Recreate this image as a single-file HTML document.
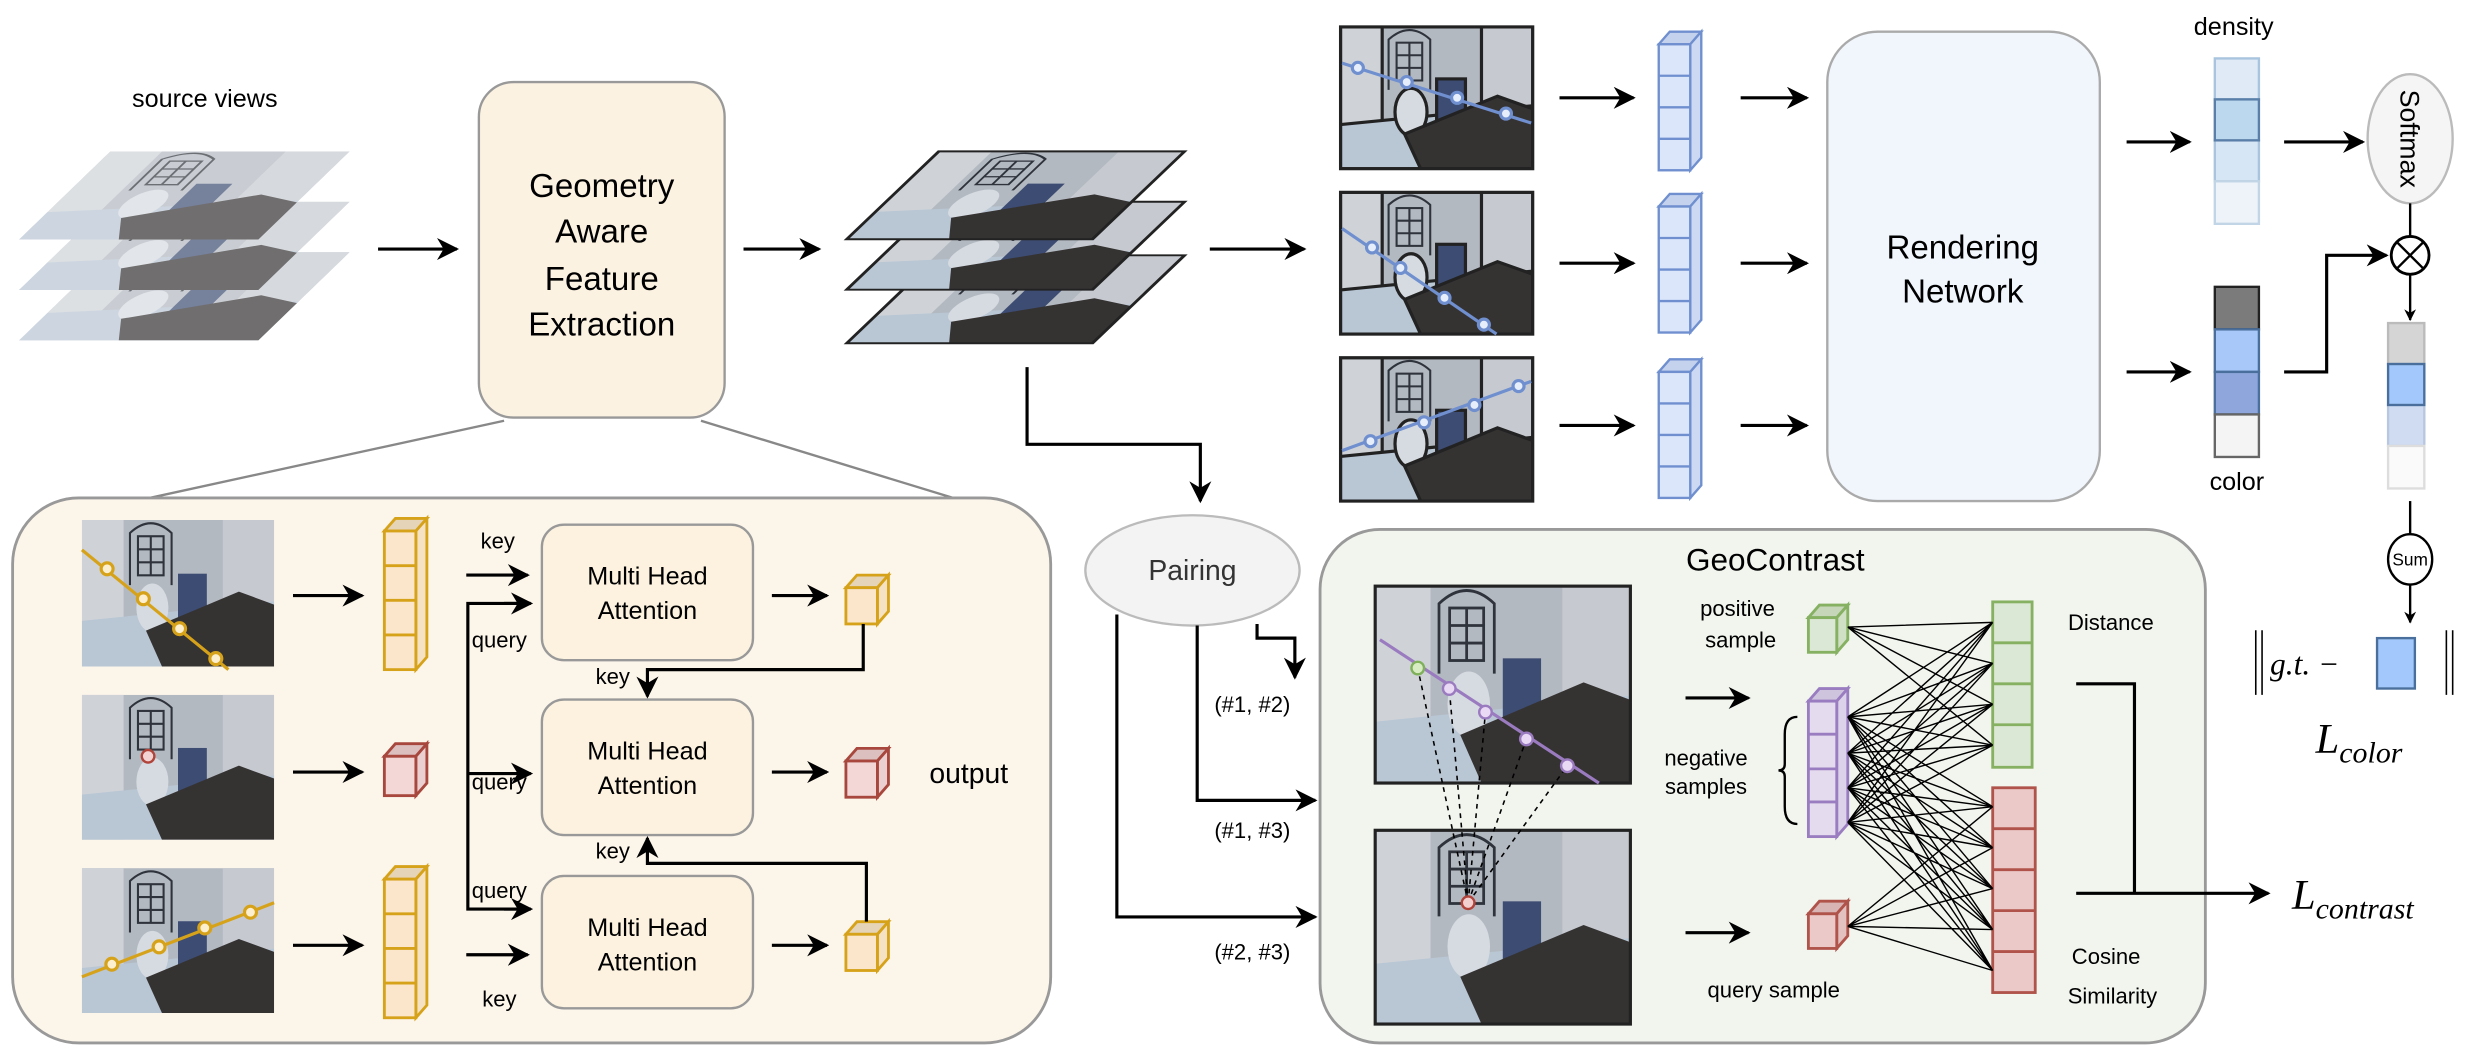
<!DOCTYPE html>
<html><head><meta charset="utf-8"><style>
html,body{margin:0;padding:0;background:#fff;}
svg{display:block;font-family:"Liberation Sans",sans-serif;}
</style></head><body>
<svg width="2470" height="1062" viewBox="0 0 1568 674" xmlns="http://www.w3.org/2000/svg">
<defs>
<marker id="ar" viewBox="0 0 10 10" refX="9" refY="5" markerWidth="7" markerHeight="7" orient="auto-start-reverse"><path d="M0,0 L10,5 L0,10 L3,5 z" fill="#000"/></marker>
<marker id="as" viewBox="0 0 10 10" refX="9" refY="5" markerWidth="5" markerHeight="5" orient="auto"><path d="M0,0 L10,5 L0,10 L3,5 z" fill="#000"/></marker>
<symbol id="scene" viewBox="0 0 120 90" preserveAspectRatio="none">
<rect width="120" height="90" fill="#b3b9c1"/>
<rect x="0" y="0" width="26" height="90" fill="#cfd3d8"/>
<rect x="88" y="0" width="32" height="60" fill="#c6cad0"/>
<polygon points="0,62 120,50 120,90 0,90" fill="#b9c6d4"/>
<g fill="none" stroke="#2f343c" stroke-width="1.3">
<path d="M30 40 V8 Q43 -4 56 8 V40"/>
<rect x="35" y="10" width="16" height="24"/>
<path d="M35 18h16M35 26h16M43 10v24"/>
</g>
<ellipse cx="44" cy="54" rx="10" ry="15" fill="#d6dbe1"/>
<rect x="60" y="33" width="18" height="34" fill="#3d4c72"/>
<polygon points="40,68 98,44 120,52 120,90 50,90" fill="#353232"/>
</symbol>
</defs>

<!-- source views -->
<text x="130" y="68" font-size="16" text-anchor="middle">source views</text>
<g opacity="0.7">
<use href="#scene" width="120" height="90" transform="matrix(1.267 0 -0.644 0.622 70 160)"/>
<use href="#scene" width="120" height="90" transform="matrix(1.267 0 -0.644 0.622 70 128)"/>
<use href="#scene" width="120" height="90" transform="matrix(1.267 0 -0.644 0.622 70 96)"/>
</g>
<line x1="240" y1="158" x2="290" y2="158" stroke="#000" stroke-width="2" marker-end="url(#ar)"/>

<rect x="304" y="52" width="156" height="213" rx="22" fill="#fcf2e2" stroke="#999" stroke-width="1.5"/>
<g font-size="21" text-anchor="middle"><text x="382" y="125">Geometry</text><text x="382" y="154">Aware</text><text x="382" y="184">Feature</text><text x="382" y="213">Extraction</text></g>
<line x1="472" y1="158" x2="520" y2="158" stroke="#000" stroke-width="2" marker-end="url(#ar)"/>

<g>
<g transform="matrix(1.3 0 -0.65 0.62 596 162)"><use href="#scene" width="120" height="90"/><rect width="120" height="90" fill="none" stroke="#222" stroke-width="2"/></g>
<g transform="matrix(1.3 0 -0.65 0.62 596 128)"><use href="#scene" width="120" height="90"/><rect width="120" height="90" fill="none" stroke="#222" stroke-width="2"/></g>
<g transform="matrix(1.3 0 -0.65 0.62 596 96)"><use href="#scene" width="120" height="90"/><rect width="120" height="90" fill="none" stroke="#222" stroke-width="2"/></g>
</g>
<line x1="768" y1="158" x2="828" y2="158" stroke="#000" stroke-width="2" marker-end="url(#ar)"/>

<!-- target images -->
<g stroke="#222" stroke-width="2">
<use href="#scene" x="851" y="17" width="122" height="90"/><rect x="851" y="17" width="122" height="90" fill="none"/>
<use href="#scene" x="851" y="122" width="122" height="90"/><rect x="851" y="122" width="122" height="90" fill="none"/>
<use href="#scene" x="851" y="227" width="122" height="91"/><rect x="851" y="227" width="122" height="91" fill="none"/>
</g>
<g stroke="#6f8fcf" stroke-width="2" fill="#e6eefc">
<line x1="852" y1="40" x2="972" y2="78"/><circle cx="862" cy="43" r="3.5"/><circle cx="893" cy="52" r="3.5"/><circle cx="925" cy="62" r="3.5"/><circle cx="956" cy="72" r="3.5"/>
<line x1="852" y1="145" x2="950" y2="212"/><circle cx="871" cy="157" r="3.5"/><circle cx="889" cy="170" r="3.5"/><circle cx="917" cy="189" r="3.5"/><circle cx="942" cy="206" r="3.5"/>
<line x1="852" y1="286" x2="972" y2="242"/><circle cx="870" cy="280" r="3.5"/><circle cx="904" cy="268" r="3.5"/><circle cx="936" cy="257" r="3.5"/><circle cx="964" cy="245" r="3.5"/>
</g>
<g stroke="#000" stroke-width="2" marker-end="url(#ar)">
<line x1="990" y1="62" x2="1037" y2="62"/><line x1="990" y1="167" x2="1037" y2="167"/><line x1="990" y1="270" x2="1037" y2="270"/>
<line x1="1105" y1="62" x2="1147" y2="62"/><line x1="1105" y1="167" x2="1147" y2="167"/><line x1="1105" y1="270" x2="1147" y2="270"/>
</g>
<!-- blue columns -->
<g stroke="#6f8fcf" stroke-width="1.5" fill="#dce6fb">
<g><polygon points="1053,28 1060,20 1080,20 1073,28" fill="#c5d2ee"/><polygon points="1073,28 1080,20 1080,100 1073,108" fill="#cdd9f3"/><rect x="1053" y="28" width="20" height="80"/><path d="M1053 48h20M1053 68h20M1053 88h20" fill="none"/></g>
<g><polygon points="1053,131 1060,123 1080,123 1073,131" fill="#c5d2ee"/><polygon points="1073,131 1080,123 1080,203 1073,211" fill="#cdd9f3"/><rect x="1053" y="131" width="20" height="80"/><path d="M1053 151h20M1053 171h20M1053 191h20" fill="none"/></g>
<g><polygon points="1053,236 1060,228 1080,228 1073,236" fill="#c5d2ee"/><polygon points="1073,236 1080,228 1080,308 1073,316" fill="#cdd9f3"/><rect x="1053" y="236" width="20" height="80"/><path d="M1053 256h20M1053 276h20M1053 296h20" fill="none"/></g>
</g>
<rect x="1160" y="20" width="173" height="298" rx="32" fill="#f1f6fd" stroke="#aaa" stroke-width="1.5"/>
<g font-size="21" text-anchor="middle"><text x="1246" y="164">Rendering</text><text x="1246" y="192">Network</text></g>

<g stroke="#000" stroke-width="2" marker-end="url(#ar)">
<line x1="1350" y1="90" x2="1390" y2="90"/><line x1="1350" y1="236" x2="1390" y2="236"/>
<line x1="1450" y1="90" x2="1500" y2="90"/>
</g>
<text x="1418" y="22" font-size="16" text-anchor="middle">density</text>
<g stroke-width="1.5">
<rect x="1406" y="37" width="28" height="26" fill="#dfeaf6" stroke="#a9c4de"/>
<rect x="1406" y="89" width="28" height="26" fill="#d7e6f4" stroke="#a9c4de"/>
<rect x="1406" y="115" width="28" height="27" fill="#eef3f9" stroke="#c2d5e6"/>
<rect x="1406" y="63" width="28" height="26" fill="#bcd8ee" stroke="#5a7fa8"/>
<rect x="1406" y="182" width="28" height="27" fill="#7b7b7b" stroke="#222"/>
<rect x="1406" y="209" width="28" height="27" fill="#a8c8fa" stroke="#4a6f9c"/>
<rect x="1406" y="236" width="28" height="27" fill="#8ea6dc" stroke="#4a6f9c"/>
<rect x="1406" y="263" width="28" height="27" fill="#f4f4f4" stroke="#666"/>
</g>
<text x="1420" y="311" font-size="16" text-anchor="middle">color</text>
<ellipse cx="1530" cy="88" rx="27" ry="41" fill="#f5f5f5" stroke="#bbb" stroke-width="1.5"/>
<text x="0" y="0" font-size="17" text-anchor="middle" transform="translate(1524 88) rotate(90)">Softmax</text>
<line x1="1530" y1="129" x2="1530" y2="150" stroke="#000" stroke-width="1.5"/>
<circle cx="1530" cy="162" r="12" fill="#fff" stroke="#000" stroke-width="1.8"/>
<path d="M1522 154 L1538 170 M1538 154 L1522 170" stroke="#000" stroke-width="1.5"/>
<path d="M1450 236 H1477 V162 H1515" fill="none" stroke="#000" stroke-width="2" marker-end="url(#ar)"/>
<line x1="1530" y1="174" x2="1530" y2="203" stroke="#000" stroke-width="1.5" marker-end="url(#as)"/>
<g stroke-width="1.5">
<rect x="1516" y="205" width="23" height="26" fill="#d5d5d5" stroke="#bbb"/>
<rect x="1516" y="257" width="23" height="26" fill="#d0dcf2" stroke="#b8c6e0"/>
<rect x="1516" y="283" width="23" height="27" fill="#fafafa" stroke="#ddd"/>
<rect x="1516" y="231" width="23" height="26" fill="#a3c8fb" stroke="#4a6f9c"/>
</g>
<line x1="1530" y1="318" x2="1530" y2="340" stroke="#000" stroke-width="1.5"/>
<ellipse cx="1530" cy="355" rx="14" ry="16" fill="#fff" stroke="#000" stroke-width="1.5"/>
<text x="1530" y="359" font-size="11" text-anchor="middle">Sum</text>
<line x1="1530" y1="371" x2="1530" y2="395" stroke="#000" stroke-width="1.5" marker-end="url(#as)"/>
<path d="M1432 400 V441 M1436 400 V441 M1553 400 V441 M1557 400 V441" stroke="#000" stroke-width="1"/>
<text x="1441" y="428" font-size="20" font-style="italic" font-family="Liberation Serif,serif">g.t. −</text>
<rect x="1509" y="405" width="24" height="32" fill="#a3c8fb" stroke="#4a6f9c" stroke-width="1.5"/>
<text x="1470" y="478" font-size="27" font-style="italic" font-family="Liberation Serif,serif">L<tspan font-size="19" dy="6">color</tspan></text>

<!-- lower-left panel -->
<path d="M320 267 L95 316 M445 267 L605 316" stroke="#888" stroke-width="1.5"/>
<rect x="8" y="316" width="659" height="346" rx="42" fill="#fcf5ea" stroke="#999" stroke-width="1.8"/>
<use href="#scene" x="52" y="330" width="122" height="93"/>
<use href="#scene" x="52" y="441" width="122" height="92"/>
<use href="#scene" x="52" y="551" width="122" height="92"/>
<g stroke="#d6a21a" stroke-width="2" fill="#fcefcf">
<line x1="52" y1="349" x2="145" y2="425"/><circle cx="68" cy="361" r="3.8"/><circle cx="91" cy="380" r="3.8"/><circle cx="114" cy="399" r="3.8"/><circle cx="137" cy="418" r="3.8"/>
<line x1="52" y1="620" x2="174" y2="573"/><circle cx="71" cy="612" r="3.8"/><circle cx="101" cy="601" r="3.8"/><circle cx="130" cy="589" r="3.8"/><circle cx="159" cy="579" r="3.8"/>
</g>
<circle cx="94" cy="480" r="4" fill="#f2d2d2" stroke="#b0443b" stroke-width="1.5"/>
<g stroke="#000" stroke-width="2" marker-end="url(#ar)">
<line x1="186" y1="378" x2="230" y2="378"/><line x1="186" y1="490" x2="230" y2="490"/><line x1="186" y1="600" x2="230" y2="600"/>
<line x1="296" y1="365" x2="335" y2="365"/><line x1="296" y1="606" x2="335" y2="606"/>
<line x1="490" y1="378" x2="525" y2="378"/><line x1="490" y1="490" x2="525" y2="490"/><line x1="490" y1="600" x2="525" y2="600"/>
</g>
<path d="M336 383 H297 V577 H336" fill="none" stroke="#000" stroke-width="2"/>
<g stroke="#000" stroke-width="2" marker-end="url(#ar)">
<line x1="320" y1="383" x2="337" y2="383"/><line x1="297" y1="491" x2="337" y2="491"/><line x1="320" y1="577" x2="337" y2="577"/>
</g>
<g font-size="14" text-anchor="middle"><text x="316" y="348">key</text><text x="317" y="411">query</text><text x="317" y="501">query</text><text x="317" y="570">query</text><text x="317" y="639">key</text><text x="389" y="434">key</text><text x="389" y="545">key</text></g>
<g fill="#fcf2df" stroke="#999" stroke-width="1.5">
<rect x="344" y="333" width="134" height="86" rx="14"/><rect x="344" y="444" width="134" height="86" rx="14"/><rect x="344" y="556" width="134" height="84" rx="14"/>
</g>
<g font-size="16" text-anchor="middle"><text x="411" y="371">Multi Head</text><text x="411" y="393">Attention</text><text x="411" y="482">Multi Head</text><text x="411" y="504">Attention</text><text x="411" y="594">Multi Head</text><text x="411" y="616">Attention</text></g>
<!-- yellow columns -->
<g stroke="#d6a21a" stroke-width="1.8" fill="#fbe6cc">
<polygon points="244,337 251,329 271,329 264,337" fill="#e6d4b8"/><polygon points="264,337 271,329 271,417 264,425" fill="#f5e2c4"/><rect x="244" y="337" width="20" height="88"/><path d="M244 359h20M244 381h20M244 403h20" fill="none"/>
<polygon points="244,558 251,550 271,550 264,558" fill="#e6d4b8"/><polygon points="264,558 271,550 271,638 264,646" fill="#f5e2c4"/><rect x="244" y="558" width="20" height="88"/><path d="M244 580h20M244 602h20M244 624h20" fill="none"/>
<polygon points="537,373 544,365 564,365 557,373" fill="#e6d4b8"/><polygon points="557,373 564,365 564,388 557,396" fill="#f5e2c4"/><rect x="537" y="373" width="20" height="23"/>
<polygon points="537,593 544,585 564,585 557,593" fill="#e6d4b8"/><polygon points="557,593 564,585 564,608 557,616" fill="#f5e2c4"/><rect x="537" y="593" width="20" height="23"/>
</g>
<g stroke="#a8473d" stroke-width="1.8" fill="#f3d7d7">
<polygon points="244,480 251,472 271,472 264,480" fill="#dcc0c0"/><polygon points="264,480 271,472 271,497 264,505" fill="#ead0d0"/><rect x="244" y="480" width="20" height="25"/>
<polygon points="537,483 544,475 564,475 557,483" fill="#dcc0c0"/><polygon points="557,483 564,475 564,498 557,506" fill="#ead0d0"/><rect x="537" y="483" width="20" height="23"/>
</g>
<path d="M548 396 V425 H411 V442" fill="none" stroke="#000" stroke-width="2" marker-end="url(#ar)"/>
<path d="M550 585 V548 H411 V532" fill="none" stroke="#000" stroke-width="2" marker-end="url(#ar)"/>
<text x="615" y="497" font-size="18" text-anchor="middle">output</text>

<!-- pairing -->
<path d="M652 233 V282 H762 V318" fill="none" stroke="#000" stroke-width="2" marker-end="url(#ar)"/>
<ellipse cx="757" cy="362" rx="68" ry="35" fill="#f3f3f3" stroke="#bbb" stroke-width="1.5"/>
<text x="757" y="368" font-size="18" text-anchor="middle" fill="#333">Pairing</text>
<path d="M798 396 V405 H822 V430" fill="none" stroke="#000" stroke-width="2" marker-end="url(#ar)"/>
<path d="M760 397 V508 H835" fill="none" stroke="#000" stroke-width="2" marker-end="url(#ar)"/>
<path d="M709 390 V582 H835" fill="none" stroke="#000" stroke-width="2" marker-end="url(#ar)"/>
<g font-size="14" text-anchor="middle"><text x="795" y="452">(#1, #2)</text><text x="795" y="532">(#1, #3)</text><text x="795" y="609">(#2, #3)</text></g>

<!-- GeoContrast -->
<rect x="838" y="336" width="562" height="326" rx="38" fill="#f1f5ee" stroke="#999" stroke-width="1.8"/>
<text x="1127" y="362" font-size="20" text-anchor="middle">GeoContrast</text>
<use href="#scene" x="873" y="372" width="162" height="125"/><rect x="873" y="372" width="162" height="125" fill="none" stroke="#222" stroke-width="2"/>
<use href="#scene" x="873" y="527" width="162" height="123"/><rect x="873" y="527" width="162" height="123" fill="none" stroke="#222" stroke-width="2"/>
<line x1="876" y1="406" x2="1015" y2="497" stroke="#9b7bc0" stroke-width="2"/>
<g stroke="#000" stroke-width="1" stroke-dasharray="3,3" fill="none">
<path d="M932 573 L900 424 M932 573 L920 437 M932 573 L943 452 M932 573 L969 469 M932 573 L995 486"/>
</g>
<circle cx="900" cy="424" r="4" fill="#d8ecc4" stroke="#7fb05a" stroke-width="1.5"/>
<g fill="#ead9f4" stroke="#9b7bc0" stroke-width="1.5"><circle cx="920" cy="437" r="4"/><circle cx="943" cy="452" r="4"/><circle cx="969" cy="469" r="4"/><circle cx="995" cy="486" r="4"/></g>
<circle cx="932" cy="573" r="4" fill="#f3d0d0" stroke="#b0443b" stroke-width="1.5"/>
<g stroke="#000" stroke-width="2" marker-end="url(#ar)"><line x1="1070" y1="443" x2="1110" y2="443"/><line x1="1070" y1="592" x2="1110" y2="592"/></g>
<g font-size="14" text-anchor="middle"><text x="1103" y="391">positive</text><text x="1105" y="411">sample</text><text x="1083" y="486">negative</text><text x="1083" y="504">samples</text><text x="1126" y="633">query sample</text><text x="1340" y="400">Distance</text><text x="1337" y="612">Cosine</text><text x="1341" y="637">Similarity</text></g>
<path d="M1141 455 Q1133 455 1133 466 V485 Q1133 489 1129 489 Q1133 489 1133 493 V512 Q1133 523 1141 523" fill="none" stroke="#000" stroke-width="1.5"/>
<g stroke="#86b062" stroke-width="1.8" fill="#dbe8d5">
<polygon points="1148,392 1155,384 1173,384 1166,392" fill="#c6d6b8"/><polygon points="1166,392 1173,384 1173,406 1166,414" fill="#d0e0c4"/><rect x="1148" y="392" width="18" height="22"/>
<rect x="1265" y="382" width="25" height="105"/><path d="M1265 408h25M1265 434h25M1265 460h25" fill="none"/>
</g>
<g stroke="#9a7dc0" stroke-width="1.8" fill="#e4dcee">
<polygon points="1148,445 1155,437 1173,437 1166,445" fill="#cfc4de"/><polygon points="1166,445 1173,437 1173,523 1166,531" fill="#dcd2ea"/><rect x="1148" y="445" width="18" height="86"/><path d="M1148 466h18M1148 488h18M1148 509h18" fill="none"/>
</g>
<g stroke="#b0544b" stroke-width="1.8" fill="#ecc9c9">
<polygon points="1148,580 1155,572 1173,572 1166,580" fill="#d9b4b4"/><polygon points="1166,580 1173,572 1173,594 1166,602" fill="#e3c1c1"/><rect x="1148" y="580" width="18" height="22"/>
<rect x="1265" y="500" width="27" height="130"/><path d="M1265 526h27M1265 552h27M1265 578h27M1265 604h27" fill="none"/>
</g>
<path stroke="#000" stroke-width="0.9" fill="none" d="
M1173 398L1265 395M1173 398L1265 421M1173 398L1265 447M1173 398L1265 473
M1173 455L1265 395M1173 455L1265 421M1173 455L1265 447M1173 455L1265 473
M1173 478L1265 395M1173 478L1265 421M1173 478L1265 447M1173 478L1265 473
M1173 500L1265 395M1173 500L1265 421M1173 500L1265 447M1173 500L1265 473
M1173 522L1265 395M1173 522L1265 421M1173 522L1265 447M1173 522L1265 473
M1173 455L1265 512M1173 455L1265 538M1173 455L1265 564M1173 455L1265 590M1173 455L1265 616
M1173 478L1265 512M1173 478L1265 538M1173 478L1265 564M1173 478L1265 590M1173 478L1265 616
M1173 500L1265 512M1173 500L1265 538M1173 500L1265 564M1173 500L1265 590M1173 500L1265 616
M1173 522L1265 512M1173 522L1265 538M1173 522L1265 564M1173 522L1265 590M1173 522L1265 616
M1173 588L1265 512M1173 588L1265 538M1173 588L1265 564M1173 588L1265 590M1173 588L1265 616"/>
<path d="M1318 434 H1355 V567" fill="none" stroke="#000" stroke-width="2"/>
<line x1="1318" y1="567" x2="1440" y2="567" stroke="#000" stroke-width="2" marker-end="url(#ar)"/>
<text x="1455" y="577" font-size="27" font-style="italic" font-family="Liberation Serif,serif">L<tspan font-size="19" dy="6">contrast</tspan></text>
</svg>
</body></html>
